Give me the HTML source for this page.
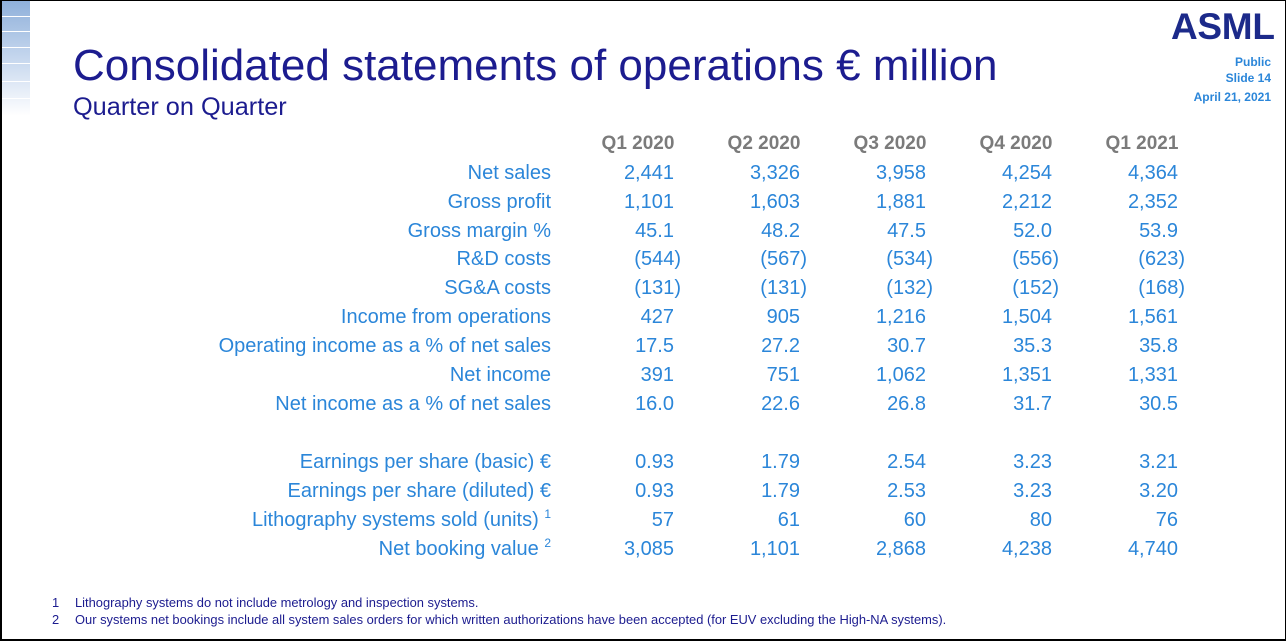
<!DOCTYPE html>
<html><head><meta charset="utf-8"><style>
body{margin:0;width:1287px;height:642px;overflow:hidden;background:#fff;font-family:"Liberation Sans",Arial,sans-serif;position:relative}
.frame{position:absolute;left:0;top:0;width:1283px;height:638px;border:2px solid #000;border-right-width:1px;border-top-width:1px;box-sizing:content-box}
.deco{position:absolute;left:2px;top:1px;width:28px;height:115px;background:linear-gradient(180deg,#8fb0da 0%,#c6d7ee 50%,#fff 100%)}
.deco i{position:absolute;left:0;width:28px;height:1px;background:#fff}
.t{position:absolute;white-space:nowrap}
.lab{position:absolute;right:736px;font-size:20px;color:#2b86d9;white-space:nowrap}
.n{position:absolute;font-size:20px;color:#2b86d9;text-align:right;width:120px;white-space:nowrap}
.h{position:absolute;font-size:19px;font-weight:bold;color:#7b7b7b;white-space:nowrap;text-align:center;width:120px}
sup{font-size:12px;vertical-align:top;position:relative;top:-2px}
</style></head><body>
<div class="frame"></div>
<div class="deco"><i style="top:15px"></i><i style="top:30px"></i><i style="top:46px"></i><i style="top:62px"></i><i style="top:80px"></i><i style="top:97px"></i></div>
<div class="t" style="left:73px;top:41px;font-size:44px;color:#1c1c8f">Consolidated statements of operations € million</div>
<div class="t" style="left:73px;top:93px;font-size:25.3px;color:#1c1c8f">Quarter on Quarter</div>
<div class="t" style="left:1171px;top:6px;font-size:37px;font-weight:bold;color:#1c2a8a;letter-spacing:-0.3px">ASML</div>
<div class="t" style="right:16px;top:54px;font-size:12px;font-weight:bold;color:#2b86d9;text-align:right;line-height:16px">Public<br>Slide 14</div>
<div class="t" style="right:16px;top:90px;font-size:12px;font-weight:bold;color:#2b86d9">April 21, 2021</div>
<div class="h" style="left:578px;top:133px">Q1 2020</div>
<div class="h" style="left:704px;top:133px">Q2 2020</div>
<div class="h" style="left:830px;top:133px">Q3 2020</div>
<div class="h" style="left:956px;top:133px">Q4 2020</div>
<div class="h" style="left:1082px;top:133px">Q1 2021</div>
<div id="rows"></div>
<div class="t" style="left:52px;top:595px;font-size:12.9px;color:#1c1c8f">1</div>
<div class="t" style="left:75px;top:595px;font-size:12.9px;color:#1c1c8f">Lithography systems do not include metrology and inspection systems.</div>
<div class="t" style="left:52px;top:612px;font-size:12.9px;color:#1c1c8f">2</div>
<div class="t" style="left:75px;top:612px;font-size:12.9px;color:#1c1c8f">Our systems net bookings include all system sales orders for which written authorizations have been accepted (for EUV excluding the High-NA systems).</div>
<script>
var rows=[
[172,"Net sales",["2,441","3,326","3,958","4,254","4,364"]],
[201,"Gross profit",["1,101","1,603","1,881","2,212","2,352"]],
[230,"Gross margin %",["45.1","48.2","47.5","52.0","53.9"]],
[258,"R&amp;D costs",["(544)","(567)","(534)","(556)","(623)"]],
[287,"SG&amp;A costs",["(131)","(131)","(132)","(152)","(168)"]],
[316,"Income from operations",["427","905","1,216","1,504","1,561"]],
[345,"Operating income as a % of net sales",["17.5","27.2","30.7","35.3","35.8"]],
[374,"Net income",["391","751","1,062","1,351","1,331"]],
[403,"Net income as a % of net sales",["16.0","22.6","26.8","31.7","30.5"]],
[461,"Earnings per share (basic) €",["0.93","1.79","2.54","3.23","3.21"]],
[490,"Earnings per share (diluted) €",["0.93","1.79","2.53","3.23","3.20"]],
[519,"Lithography systems sold (units) <sup>1</sup>",["57","61","60","80","76"]],
[548,"Net booking value <sup>2</sup>",["3,085","1,101","2,868","4,238","4,740"]]];
var R=[674,800,926,1052,1178],h="";
rows.forEach(function(r){var top=r[0]-10;
h+='<div class="lab" style="top:'+top+'px">'+r[1]+'</div>';
r[2].forEach(function(v,i){var right=R[i]+(v[0]=="("?7:0);
h+='<div class="n" style="left:'+(right-120)+'px;top:'+top+'px">'+v+'</div>';});});
document.getElementById("rows").innerHTML=h;
</script>
</body></html>
